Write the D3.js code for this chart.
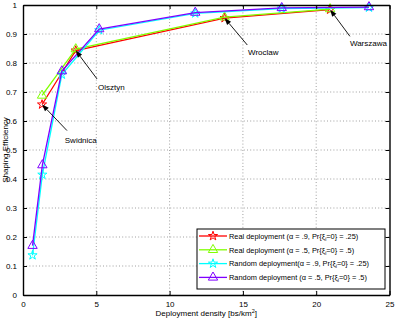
<!DOCTYPE html>
<html><head><meta charset="utf-8">
<script src="https://cdn.jsdelivr.net/npm/d3@7"></script>
<style>body{margin:0;background:#fff}svg{display:block;font-family:"Liberation Sans",Arial,sans-serif}</style>
</head><body><svg id="c" width="396" height="318"></svg>
<script>
const xTicks=[0,5,10,15,20,25];
const yTicks=[0,0.1,0.2,0.3,0.4,0.5,0.6,0.7,0.8,0.9,1];
const yTickLabels=["0","0.1","0.2","0.3","0.4","0.5","0.6","0.7","0.8","0.9","1"];
const realX=[1.3,3.6,13.75,20.95];
const realA9=[0.657,0.843,0.955,0.984];
const realA5=[0.688,0.848,0.958,0.986];
const randX=[0.65,1.32,2.65,5.2,11.75,17.65,23.6];
const randA9=[0.137,0.415,0.76,0.913,0.971,0.988,0.991];
const randA5=[0.17,0.448,0.772,0.917,0.974,0.99,0.993];
const seriesNames=["Real deployment (α = .9, Pr{ξ|=0} = .25)","Real deployment (α = .5, Pr{ξ|=0} = .5)","Random deployment(α = .9, Pr{ξ|=0} = .25)","Random deployment (α = .5, Pr{ξ|=0} = .5)"];
const cities=["Swidnica","Olsztyn","Wroclaw","Warszawa"];
const cityIdx=[0,1,2,3];
const labelX=[2.85,5.12,15.35,22.3];
const labelY=[0.536,0.718,0.838,0.87];
const tailX=[3.0,5.05,15.3,22.3];
const tailY=[0.567,0.745,0.862,0.892];

const W=396,H=318,m={l:23,t:5,r:6,b:23};
const svg=d3.select("#c");
const x=d3.scaleLinear().domain([0,25]).range([m.l,W-m.r-0.5]);
const y=d3.scaleLinear().domain([0,1]).range([H-m.b,m.t]);
const g=svg.append("g");
// grid
g.selectAll(".gx").data(xTicks.slice(1,-1)).join("line").attr("x1",d=>x(d)).attr("x2",d=>x(d)).attr("y1",y(0)).attr("y2",y(1)).attr("stroke","#888").attr("stroke-width",0.8).attr("stroke-dasharray","1,2.2");
g.selectAll(".gy").data(yTicks.slice(1,-1)).join("line").attr("y1",d=>y(d)).attr("y2",d=>y(d)).attr("x1",x(0)).attr("x2",x(25)).attr("stroke","#888").attr("stroke-width",0.8).attr("stroke-dasharray","1,2.2");
// axes
const ax=d3.axisBottom(x).tickValues(xTicks).tickSizeInner(-4).tickSizeOuter(0).tickPadding(6).tickFormat(d3.format("d"));
const axT=d3.axisTop(x).tickValues(xTicks).tickSizeInner(-4).tickSizeOuter(0).tickFormat("");
const ay=d3.axisLeft(y).tickValues(yTicks).tickSizeInner(-4).tickSizeOuter(0).tickPadding(6).tickFormat((d,i)=>yTickLabels[i]);
const ayR=d3.axisRight(y).tickValues(yTicks).tickSizeInner(-4).tickSizeOuter(0).tickFormat("");
function style(s){s.selectAll("path").attr("stroke","#000").attr("stroke-width",1.4);s.selectAll("line").attr("stroke","#000");s.selectAll("text").attr("font-size",8).attr("fill","#000").attr("font-family","Liberation Sans, Arial, sans-serif");}
svg.append("g").attr("transform",`translate(0,${y(0)})`).call(ax).call(style);
svg.append("g").attr("transform",`translate(0,${y(1)})`).call(axT).call(style);
svg.append("g").attr("transform",`translate(${x(0)},0)`).call(ay).call(style);
svg.append("g").attr("transform",`translate(${x(25)},0)`).call(ayR).call(style);

const series=[
 {xs:realX,ys:realA9,c:"#ff0000",sym:d3.symbolStar},
 {xs:realX,ys:realA5,c:"#80ff00",sym:d3.symbolTriangle},
 {xs:randX,ys:randA9,c:"#00ffff",sym:d3.symbolStar},
 {xs:randX,ys:randA5,c:"#7f00ff",sym:d3.symbolTriangle}
];
const line=d3.line().x(d=>x(d[0])).y(d=>y(d[1]));
series.forEach(s=>{
 const pts=s.xs.map((v,i)=>[v,s.ys[i]]);
 g.append("path").datum(pts).attr("d",line).attr("fill","none").attr("stroke",s.c).attr("stroke-width",1.3);
 g.selectAll(null).data(pts).join("path").attr("transform",d=>`translate(${x(d[0])},${y(d[1])})`)
  .attr("d",d3.symbol().type(s.sym).size(s.sym===d3.symbolStar?26:38)).attr("fill","none").attr("stroke",s.c).attr("stroke-width",1);
});
// annotations
cityIdx.forEach((ci,k)=>{
 const hx=x(realX[ci]),hy=y(realA9[ci]);
 const tx=x(tailX[k]),ty=y(tailY[k]);
 const ang=Math.atan2(hy-ty,hx-tx);
 const L=7,Wd=2.6;
 const bx=hx-L*Math.cos(ang),by=hy-L*Math.sin(ang);
 svg.append("line").attr("x1",tx).attr("y1",ty).attr("x2",bx).attr("y2",by).attr("stroke","#000").attr("stroke-width",0.9);
 const px=-Math.sin(ang),py=Math.cos(ang);
 svg.append("path").attr("d",`M${hx},${hy}L${bx+px*Wd},${by+py*Wd}L${bx-px*Wd},${by-py*Wd}Z`).attr("fill","#000");
 svg.append("text").attr("x",x(labelX[k])).attr("y",y(labelY[k])+3).attr("font-size",8).text(cities[k]);
});
// labels
svg.append("text").attr("x",(x(0)+x(25))/2).attr("y",316).attr("text-anchor","middle").attr("font-size",8)
 .call(t=>{t.append("tspan").text("Deployment density [bs/km");t.append("tspan").attr("font-size",5.5).attr("dy",-3.5).text("2");t.append("tspan").attr("dy",3.5).text("]");});
svg.append("text").attr("transform",`translate(7.5,${(y(0)+y(1))/2}) rotate(-90)`).attr("text-anchor","middle").attr("font-size",8).text("Shaping Efficiency");
// legend
const lg=svg.append("g");
lg.append("rect").attr("x",197).attr("y",229).attr("width",188).attr("height",60).attr("fill","#fff").attr("stroke","#000").attr("stroke-width",1);
series.forEach((s,i)=>{
 const ly=236+i*13.8;
 lg.append("line").attr("x1",199).attr("x2",227).attr("y1",ly).attr("y2",ly).attr("stroke",s.c).attr("stroke-width",1.3);
 lg.append("path").attr("transform",`translate(213,${ly})`).attr("d",d3.symbol().type(s.sym).size(s.sym===d3.symbolStar?26:38)).attr("fill","none").attr("stroke",s.c).attr("stroke-width",1);
 const parts=seriesNames[i].split("|");
 const t=lg.append("text").attr("x",229).attr("y",ly+2.7).attr("font-size",7.4);
 t.append("tspan").text(parts[0]);
 t.append("tspan").attr("font-size",5).attr("dy",2).text("i");
 t.append("tspan").attr("dy",-2).text(parts[1]);
});
</script></body></html>
